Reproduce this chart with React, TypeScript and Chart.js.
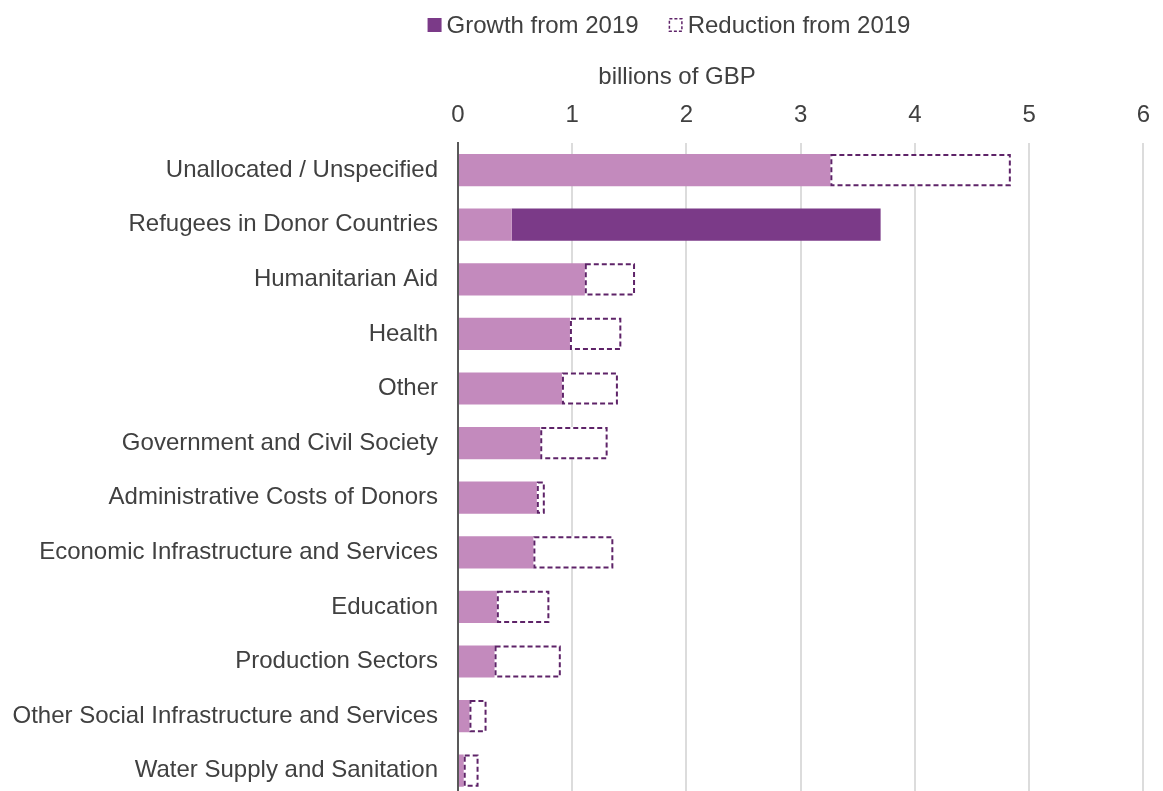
import React, { useEffect, useRef } from "react";
import { Chart, registerables } from "chart.js";

Chart.register(...registerables);

const categories = [
  "Unallocated / Unspecified",
  "Refugees in Donor Countries",
  "Humanitarian Aid",
  "Health",
  "Other",
  "Government and Civil Society",
  "Administrative Costs of Donors",
  "Economic Infrastructure and Services",
  "Education",
  "Production Sectors",
  "Other Social Infrastructure and Services",
  "Water Supply and Sanitation",
];
const baseValues = [3.26, 0.47, 1.11, 0.98, 0.91, 0.72, 0.69, 0.66, 0.34, 0.32, 0.1, 0.05];
const growthValues = [null, 3.23, null, null, null, null, null, null, null, null, null, null];
const reductionValues = [1.58, null, 0.44, 0.45, 0.49, 0.59, 0.07, 0.7, 0.46, 0.58, 0.15, 0.13];
const xMin = 0;
const xMax = 6;
const xStep = 1;
const axisTitle = "billions of GBP";
const growthLabel = "Growth from 2019";
const reductionLabel = "Reduction from 2019";

const BASE_COLOR = "#C38ABD";
const GROWTH_COLOR = "#7B3A88";
const DASH_COLOR = "#5E2368";
const TEXT_COLOR = "#404040";
const FONT = "'Liberation Sans', Arial, sans-serif";
const FONT_SIZE = 24;

// layout constants for legend / axis title
const LEGEND_CENTER_X = 669;
const LEGEND_BASELINE = 33;
const LEGEND_BOX = 14;
const LEGEND_BOX_GAP = 5;
const LEGEND_ITEM_GAP = 30;
const TITLE_CENTER_X = 677;
const TITLE_BASELINE = 84;

const dashedBars = {
  id: "dashedBars",
  afterDatasetsDraw(chart: any) {
    const meta = chart.getDatasetMeta(2);
    const ctx = chart.ctx;
    ctx.save();
    ctx.strokeStyle = DASH_COLOR;
    ctx.lineWidth = 2;
    ctx.setLineDash([5, 3]);
    meta.data.forEach((el: any, i: number) => {
      const v = chart.data.datasets[2].data[i];
      if (v == null || v === 0) return;
      const p = el.getProps(["x", "y", "base", "height"], true);
      const left = Math.min(p.base, p.x);
      const right = Math.max(p.base, p.x);
      const top = p.y - p.height / 2;
      ctx.strokeRect(left + 1, top + 1, right - left - 2, p.height - 2);
    });
    ctx.restore();
  },
};

const legendAndTitle = {
  id: "legendAndTitle",
  afterDraw(chart: any) {
    const ctx = chart.ctx;
    ctx.save();
    ctx.font = `${FONT_SIZE}px ${FONT}`;
    ctx.fillStyle = TEXT_COLOR;
    ctx.textBaseline = "alphabetic";
    ctx.textAlign = "left";
    const w1 = ctx.measureText(growthLabel).width;
    const w2 = ctx.measureText(reductionLabel).width;
    const total = LEGEND_BOX + LEGEND_BOX_GAP + w1 + LEGEND_ITEM_GAP + LEGEND_BOX + LEGEND_BOX_GAP + w2;
    let x = LEGEND_CENTER_X - total / 2;
    const boxTop = LEGEND_BASELINE - 15;
    // growth box
    ctx.fillStyle = GROWTH_COLOR;
    ctx.fillRect(x, boxTop, LEGEND_BOX, LEGEND_BOX);
    x += LEGEND_BOX + LEGEND_BOX_GAP;
    ctx.fillStyle = TEXT_COLOR;
    ctx.fillText(growthLabel, x, LEGEND_BASELINE);
    x += w1 + LEGEND_ITEM_GAP;
    // reduction box
    ctx.fillStyle = "#ffffff";
    ctx.fillRect(x, boxTop, LEGEND_BOX, LEGEND_BOX);
    ctx.strokeStyle = DASH_COLOR;
    ctx.lineWidth = 1.5;
    ctx.setLineDash([3, 2]);
    ctx.strokeRect(x + 0.75, boxTop + 0.75, LEGEND_BOX - 1.5, LEGEND_BOX - 1.5);
    ctx.setLineDash([]);
    x += LEGEND_BOX + LEGEND_BOX_GAP;
    ctx.fillStyle = TEXT_COLOR;
    ctx.fillText(reductionLabel, x, LEGEND_BASELINE);
    // axis title
    ctx.textAlign = "center";
    ctx.fillText(axisTitle, TITLE_CENTER_X, TITLE_BASELINE);
    ctx.restore();
  },
};

export default function App() {
  const ref = useRef<HTMLCanvasElement | null>(null);
  useEffect(() => {
    if (!ref.current) return;
    const chart = new Chart(ref.current, {
      type: "bar",
      data: {
        labels: categories,
        datasets: [
          {
            label: "2019 base",
            data: baseValues,
            backgroundColor: BASE_COLOR,
            borderWidth: 0,
            categoryPercentage: 1,
            barPercentage: 0.59,
          },
          {
            label: growthLabel,
            data: growthValues as any,
            backgroundColor: GROWTH_COLOR,
            borderWidth: 0,
            categoryPercentage: 1,
            barPercentage: 0.59,
          },
          {
            label: reductionLabel,
            data: reductionValues as any,
            backgroundColor: "#ffffff",
            borderWidth: 0,
            categoryPercentage: 1,
            barPercentage: 0.59,
          },
        ],
      },
      options: {
        indexAxis: "y",
        animation: false,
        responsive: true,
        maintainAspectRatio: false,
        layout: { padding: { left: 0, right: 18, top: 88, bottom: 2 } },
        plugins: {
          tooltip: { enabled: false },
          legend: { display: false },
          title: { display: false },
        },
        scales: {
          x: {
            position: "top",
            stacked: true,
            min: xMin,
            max: xMax,
            ticks: {
              stepSize: xStep,
              color: TEXT_COLOR,
              font: { family: FONT, size: FONT_SIZE },
              padding: 13,
            },
            grid: { color: "#dcdcdc", lineWidth: 2, drawTicks: false },
            border: { display: false },
            title: { display: false, text: axisTitle },
          },
          y: {
            stacked: true,
            afterFit: (scale: any) => {
              scale.width = 458;
              scale.paddingTop = 0;
              scale.paddingBottom = 0;
            },
            ticks: {
              color: TEXT_COLOR,
              font: { family: FONT, size: FONT_SIZE },
              padding: 20,
            },
            grid: { display: false, drawTicks: false },
            border: { display: true, color: "#595959", width: 2 },
          },
        },
      },
      plugins: [dashedBars, legendAndTitle],
    });
    return () => chart.destroy();
  }, []);
  return (
    <div style={{ position: "absolute", left: 0, top: 0, width: 1163, height: 800 }}>
      <canvas ref={ref} />
    </div>
  );
}
